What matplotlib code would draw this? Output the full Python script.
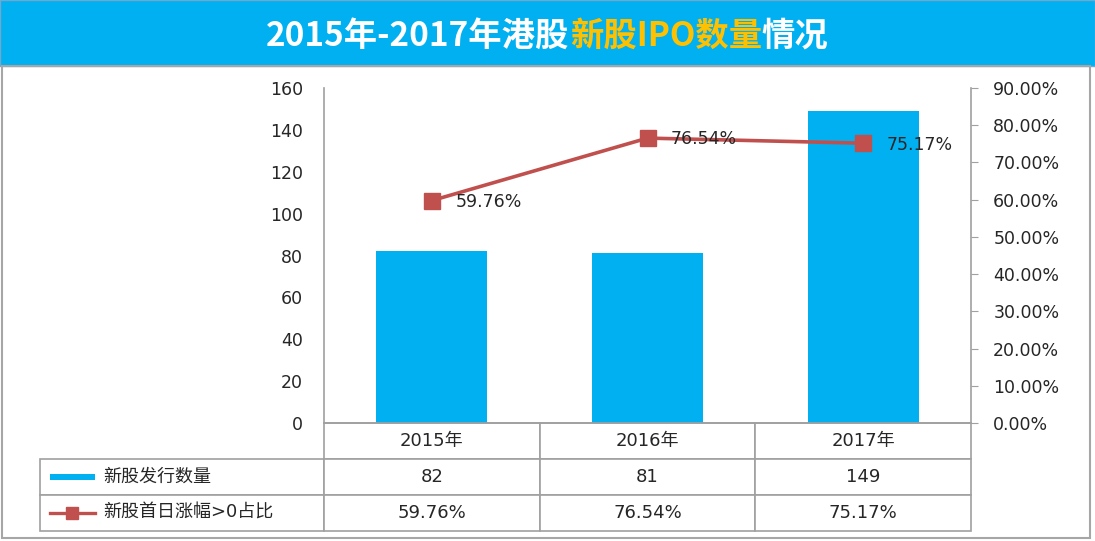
# coding: utf-8
import matplotlib
matplotlib.use('Agg')
import matplotlib.pyplot as plt
from matplotlib.patches import Rectangle
from matplotlib.lines import Line2D
from matplotlib.ticker import FuncFormatter, MultipleLocator

plt.rcParams['font.family'] = ['DejaVu Sans', 'Noto Sans CJK SC']

# ------------------ data
years = ['2015年', '2016年', '2017年']
ipo_count = [82, 81, 149]
up_ratio = [59.76, 76.54, 75.17]
series_names = ['新股发行数量', '新股首日涨幅>0占比']
title_parts = [('2015年-2017年港股', 'white'), ('新股IPO数量', '#FFC000'), ('情况', 'white')]

barColor = '#00B0F0'
lineColor = '#C0504D'
gridColor = '#A0A0A0'
txtColor = '#262626'

W, H = 1095, 541
fig = plt.figure(figsize=(W / 100, H / 100), dpi=100)

# ------------------ frame + banner
fig.add_artist(Rectangle((0, 1 - 66 / H), 1, 66 / H, transform=fig.transFigure,
                         facecolor=barColor, edgecolor='#6FA8D0', lw=1))
fig.add_artist(Rectangle((2 / W, 3 / H), 1088 / W, (538 - 66) / H, transform=fig.transFigure,
                         facecolor='none', edgecolor='#A6A6A6', lw=1.5))

# ------------------ bars
ax0 = fig.add_axes([324 / W, 1 - 423 / H, (971 - 324) / W, (423 - 88) / H])
x = list(range(len(years)))
ax0.bar(x, ipo_count, width=0.515, color=barColor, zorder=2)
ax0.set_xlim(-0.5, len(years) - 0.5)
ax0.set_ylim(0, 160)
ax0.yaxis.set_major_locator(MultipleLocator(20))
ax0.set_xticks([])
ax0.tick_params(axis='y', length=0, pad=15, labelsize=12.5, labelcolor=txtColor)
for s in ['top', 'right']:
    ax0.spines[s].set_visible(False)
for s in ['left', 'bottom']:
    ax0.spines[s].set_color(gridColor)
    ax0.spines[s].set_linewidth(1.2)

# ------------------ line
ax1 = ax0.twinx()
ax1.plot(x, up_ratio, '-', color=lineColor, lw=2.6, marker='s', ms=11, zorder=3)
ax1.set_ylim(0, 90)
ax1.yaxis.set_major_locator(MultipleLocator(10))
ax1.yaxis.set_major_formatter(FuncFormatter(lambda v, p: '{:.2f}%'.format(v)))
ax1.tick_params(axis='y', length=5, color=gridColor, pad=11, labelsize=12.5, labelcolor=txtColor)
for s in ['top', 'left', 'bottom']:
    ax1.spines[s].set_visible(False)
ax1.spines['right'].set_color(gridColor)
ax1.spines['right'].set_linewidth(1.2)

for xi, v in zip(x, up_ratio):
    ax1.annotate('{:.2f}%'.format(v), (xi, v), xytext=(17, -1), textcoords='offset points',
                 ha='left', va='center', fontsize=12.5, color=txtColor)

# ------------------ data table
labW = (324 - 40) / 647.
cellText = [[series_names[0]] + [str(v) for v in ipo_count],
            [series_names[1]] + ['{:.2f}%'.format(v) for v in up_ratio]]
tbl = ax0.table(cellText=cellText, colLabels=[''] + years,
                colWidths=[labW] + [1 / 3.] * 3, cellLoc='center',
                bbox=[-labW, -108 / 335., 1 + labW, 108 / 335.])
tbl.auto_set_font_size(False)
tbl.set_fontsize(13)
for (r, c), cell in tbl.get_celld().items():
    cell.set_edgecolor(gridColor)
    cell.set_linewidth(1.2)
    cell.get_text().set_color(txtColor)
    if c == 0:
        cell.get_text().set_ha('left')
        cell.PAD = 63 / 284.
tbl[0, 0].visible_edges = ''

# legend keys inside the table
keyX0, keyX1 = (50 - 324) / 647., (95 - 324) / 647.
row1Y, row2Y = -(36 + 18) / 335., -(72 + 18) / 335.
ax0.add_patch(Rectangle((keyX0, row1Y - 0.009), keyX1 - keyX0, 0.018, transform=ax0.transAxes,
                        facecolor=barColor, edgecolor='none', clip_on=False))
ax0.add_line(Line2D([keyX0, (keyX0 + keyX1) / 2, keyX1], [row2Y] * 3, transform=ax0.transAxes,
                    color=lineColor, lw=2.4, marker='s', ms=9, markevery=[1], clip_on=False))

# ------------------ title with coloured middle part
rend = fig.canvas.get_renderer()
texts = []
for s, col in title_parts:
    t = fig.text(0, 1 - 36 / H, s, color=col, fontsize=24, fontweight='bold',
                 family=['Noto Sans CJK SC', 'DejaVu Sans'], ha='left', va='center')
    texts.append(t)
widths = [t.get_window_extent(rend).width / W for t in texts]
xPos = 0.5 - sum(widths) / 2
for t, w in zip(texts, widths):
    t.set_x(xPos)
    xPos += w

plt.savefig('out.png', dpi=100, facecolor='white')
